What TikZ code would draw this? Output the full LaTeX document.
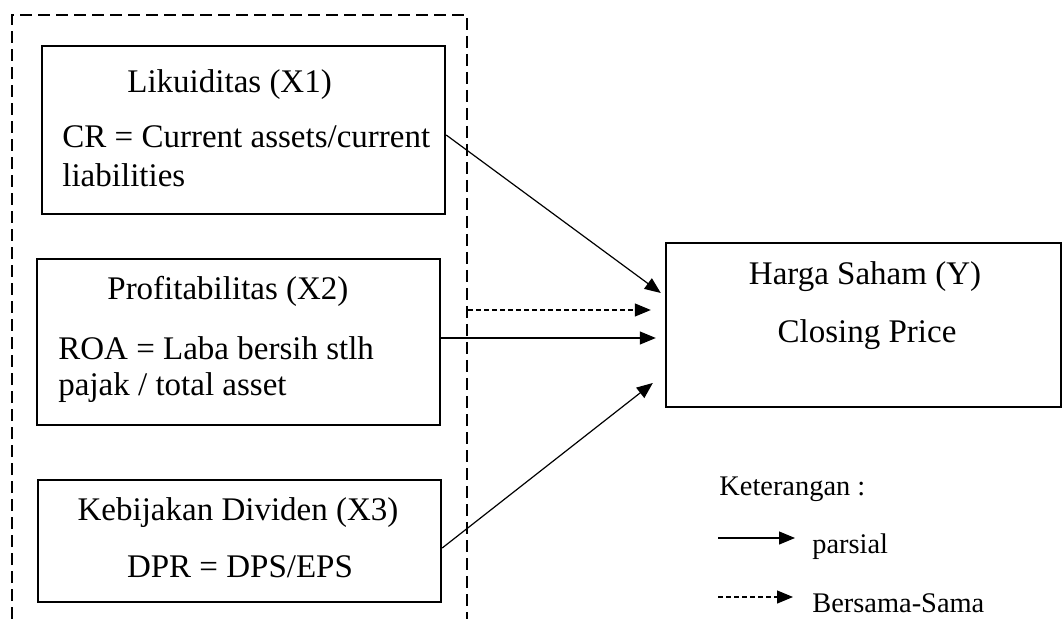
\documentclass[tikz,border=0pt]{standalone}
\usepackage{fontspec}
\setmainfont{Liberation Serif}
\usetikzlibrary{arrows.meta}
\begin{document}
\begin{tikzpicture}[x=0.5pt,y=-0.5pt,
  box/.style={draw,line width=1.2pt,inner sep=0pt,minimum width=#1},
  txt/.style={inner sep=0pt,font=\fontsize{16.5}{19}\selectfont},
  legtxt/.style={inner sep=0pt,font=\fontsize{14.2}{17}\selectfont},
  arr/.style={line width=0.6pt,-{Triangle[length=8pt,width=6.5pt]}},
  darr/.style={arr,dash pattern=on 2.5pt off 1.5pt},
  frame/.style={line width=1.2pt,dash pattern=on 6pt off 3pt}]
\useasboundingbox (0,0) rectangle (1063,619);
% dashed frame
\draw[frame] (12,619) -- (12,15) -- (467,15) -- (467,619);
% boxes
\node[box=201.5pt,minimum height=84pt] (x1) at (243.5,130) {};
\node[box=201.5pt,minimum height=83pt] (x2) at (238.5,342) {};
\node[box=201.5pt,minimum height=61pt] (x3) at (239.5,541) {};
\node[box=197.5pt,minimum height=82pt] (y) at (863.5,325) {};
% texts
\node[txt,anchor=base west] (t1a) at (127,93) {Likuiditas (X1)};
\node[txt,anchor=base west] (t1b) at (62,148) {CR = Current assets/current};
\node[txt,anchor=base west] (t1c) at (62,187) {liabilities};
\node[txt,anchor=base west] (t2a) at (107,300) {Profitabilitas (X2)};
\node[txt,anchor=base west] (t2b) at (58,360) {ROA = Laba bersih stlh};
\node[txt,anchor=base west] (t2c) at (58,395) {pajak / total asset};
\node[txt,anchor=base] (t3a) at (238,520) {Kebijakan Dividen (X3)};
\node[txt,anchor=base] (t3b) at (240,577) {DPR = DPS/EPS};
\node[txt,anchor=base] (ta) at (865,285) {Harga Saham (Y)};
\node[txt,anchor=base] (tb) at (867,343) {Closing Price};
% connectors
\coordinate (d0) at (468,310);
\draw[arr] ([shift={(0,5)}]x1.east) -- ([shift={(-4,-32)}]y.west);
\draw[darr] (d0) -- ([shift={(-14,-15)}]y.west);
\draw[arr] ([shift={(0,-4)}]x2.east) -- ([shift={(-9,13)}]y.west);
\draw[arr] ([shift={(0,7)}]x3.east) -- ([shift={(-12,58)}]y.west);
% legend
\node[legtxt,anchor=base west] (ket) at (719,495) {Keterangan :};
\coordinate (l1a) at (718,538);
\coordinate (l1b) at (795,538);
\coordinate (l2a) at (718,597);
\coordinate (l2b) at (793,597);
\draw[arr] (l1a) -- (l1b);
\draw[darr] (l2a) -- (l2b);
\node[legtxt,anchor=base west] (lp) at (812,553) {parsial};
\node[legtxt,anchor=base west] (lb) at (812,612) {Bersama-Sama};
\end{tikzpicture}
\end{document}
